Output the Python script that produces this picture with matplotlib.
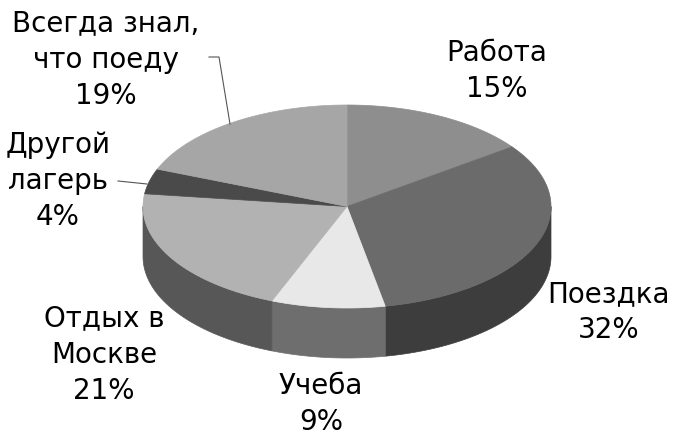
import numpy as np
import matplotlib.pyplot as plt
from matplotlib.patches import Polygon

labels = ["Работа", "Поездка", "Учеба", "Отдых в\nМоскве", "Другой\nлагерь", "Всегда знал,\nчто поеду"]
values = [15, 32, 9, 21, 4, 19]

top_colors = ["#8e8e8e", "#6b6b6b", "#e8e8e8", "#b2b2b2", "#4a4a4a", "#a6a6a6"]
side_colors = ["#5e5e5e", "#3d3d3d", "#6e6e6e", "#575757", "#333333", "#6a6a6a"]

# label block centres (pixels)
label_pos = [(497, 71), (609, 312), (321, 404), (104, 355), (58, 181), (106, 60)]

# ellipse geometry in pixels
cx, cy, a, b, depth = 347, 206.5, 204, 101.5, 50

fig = plt.figure(figsize=(6.75, 4.36), dpi=100)
ax = fig.add_axes([0, 0, 1, 1])
ax.set_xlim(0, 675)
ax.set_ylim(436, 0)
ax.axis("off")


def ell(t, dy=0):
    return np.column_stack([cx + a * np.cos(t), cy - b * np.sin(t) + dy])


fracs = np.array(values) / sum(values)
ends = np.deg2rad(90) - 2 * np.pi * np.cumsum(fracs)
starts = np.concatenate([[np.deg2rad(90)], ends[:-1]])

# side walls (front half only)
for t0, t1, col in zip(starts, ends, side_colors):
    hi = min(t0, 0.0)
    lo = max(t1, -np.pi)
    if hi <= lo:
        continue
    t = np.linspace(hi, lo, 100)
    pts = np.vstack([ell(t), ell(t[::-1], depth)])
    ax.add_patch(Polygon(pts, closed=True, facecolor=col, edgecolor=col, lw=0.5))

# top wedges
for t0, t1, col in zip(starts, ends, top_colors):
    t = np.linspace(t0, t1, 200)
    pts = np.vstack([[cx, cy], ell(t)])
    ax.add_patch(Polygon(pts, closed=True, facecolor=col, edgecolor=col, lw=0.5))

for lab, v, (x, y) in zip(labels, values, label_pos):
    ax.text(x, y, f"{lab}\n{v}%", ha="center", va="center", fontsize=20,
            linespacing=1.38, family="DejaVu Sans", color="black")

# leader lines
ax.plot([209, 219, 230], [57, 57, 124], color="#555555", lw=0.8)
ax.plot([118, 147], [181, 184], color="#555555", lw=0.8)

fig.savefig("out.png", dpi=100)
